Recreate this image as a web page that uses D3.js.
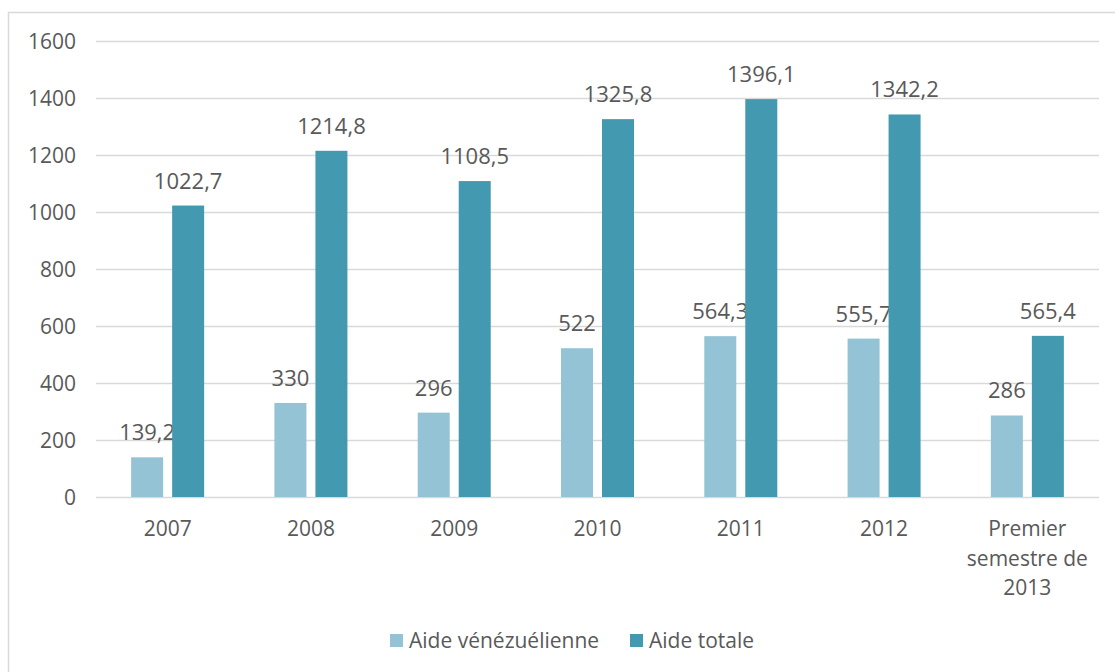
<!DOCTYPE html>
<html><head><meta charset="utf-8">
<script src="https://cdn.jsdelivr.net/npm/d3@7"></script>
<style>body{margin:0;background:#fff}svg{display:block}</style>
</head><body>
<svg id="c" width="1115" height="672"></svg>
<script>
const categories = ["2007","2008","2009","2010","2011","2012","Premier semestre de 2013"];
const aideVenezuelienne = [139.2, 330, 296, 522, 564.3, 555.7, 286];
const aideTotale = [1022.7, 1214.8, 1108.5, 1325.8, 1396.1, 1342.2, 565.4];
const seriesNames = ["Aide vénézuélienne", "Aide totale"];
const yTicks = [0,200,400,600,800,1000,1200,1400,1600];

const colors = ["#93C3D5", "#4299B0"];
const font = "'Open Sans', 'Liberation Sans', sans-serif";
const txt = "#595959";
const svg = d3.select("#c");

// frame
svg.append("rect").attr("x",8.5).attr("y",12.5).attr("width",1120).attr("height",680)
  .attr("fill","none").attr("stroke","#d9d9d9").attr("stroke-width",1.5);

const pLeft=96, pRight=1099, pTop=41, pBottom=497;
const y = d3.scaleLinear().domain([0,1600]).range([pBottom, pTop]);
const x = d3.scaleBand().domain(categories).range([pLeft,pRight]).paddingInner(0).paddingOuter(0);
const barW = 32, gap = 9;

// grid
svg.append("g").selectAll("line").data(yTicks).join("line")
  .attr("x1",pLeft).attr("x2",pRight).attr("y1",d=>y(d)+0.5).attr("y2",d=>y(d)+0.5)
  .attr("stroke","#d9d9d9").attr("stroke-width",1.3);

// y labels
svg.append("g").selectAll("text").data(yTicks).join("text")
  .attr("x",76).attr("y",d=>y(d)+7.5).attr("text-anchor","end")
  .attr("font-family",font).attr("font-size",21).attr("fill",txt).text(d=>d);

const fmt = v => String(v).replace(".",",");
const series = [aideVenezuelienne, aideTotale];
series.forEach((vals,si)=>{
  const off = si===0 ? -(gap/2+barW) : gap/2;
  const g = svg.append("g");
  g.selectAll("rect").data(vals).join("rect")
    .attr("x",(d,i)=>x(categories[i])+x.bandwidth()/2+off)
    .attr("width",barW)
    .attr("y",d=>y(d)).attr("height",d=>pBottom-y(d))
    .attr("fill",colors[si]);
  g.selectAll("text").data(vals).join("text")
    .attr("x",(d,i)=>x(categories[i])+x.bandwidth()/2+off+barW/2)
    .attr("y",d=>y(d)-17)
    .attr("text-anchor","middle")
    .attr("font-family",font).attr("font-size",22).attr("fill",txt)
    .text(d=>fmt(d));
});

// x labels
const xl = svg.append("g");
categories.forEach(c=>{
  const cx = x(c)+x.bandwidth()/2;
  const lines = c.length>6 ? ["Premier","semestre de","2013"] : [c];
  const t = xl.append("text").attr("text-anchor","middle").attr("font-family",font)
    .attr("font-size",21).attr("fill",txt);
  lines.forEach((l,i)=>t.append("tspan").attr("x",cx).attr("y",536+i*29.5).text(l));
});

// legend
const leg = svg.append("g");
const legItems = [{x:390,name:seriesNames[0],c:colors[0]},{x:630,name:seriesNames[1],c:colors[1]}];
legItems.forEach(it=>{
  leg.append("rect").attr("x",it.x).attr("y",634).attr("width",13).attr("height",13).attr("fill",it.c);
  leg.append("text").attr("x",it.x+19).attr("y",648).attr("font-family",font).attr("font-size",21)
    .attr("fill",txt).text(it.name);
});
</script>
</body></html>
